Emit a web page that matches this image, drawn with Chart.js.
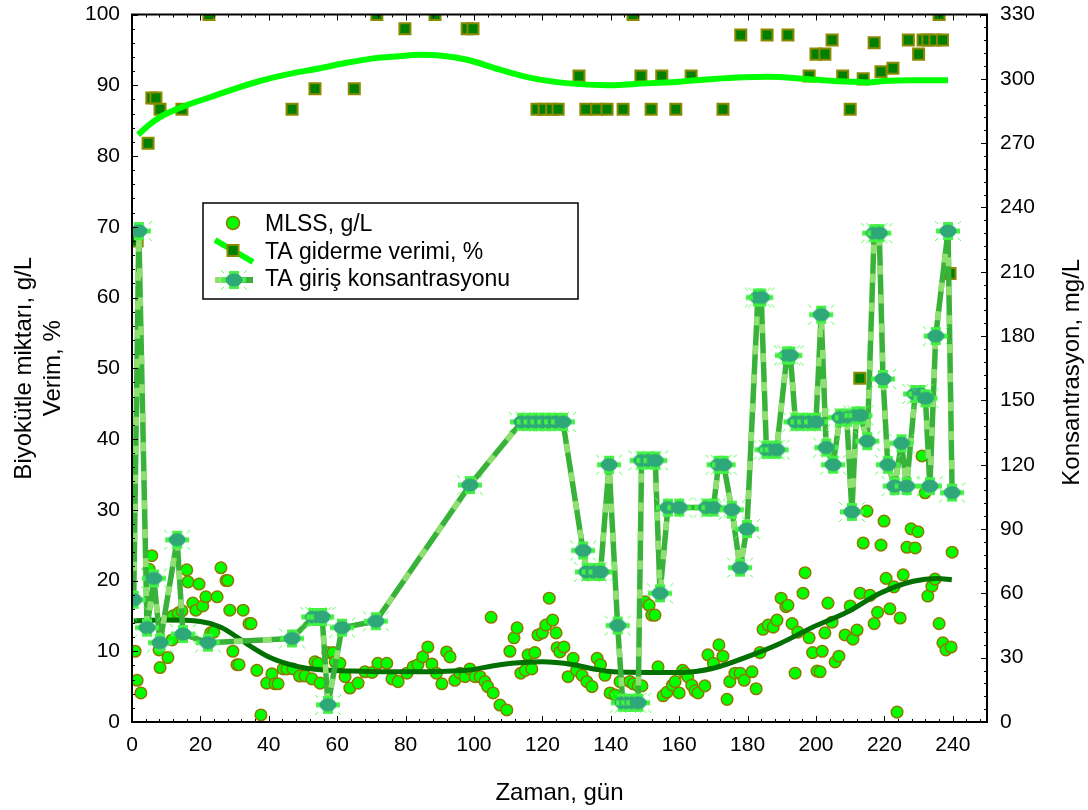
<!DOCTYPE html>
<html lang="tr">
<head>
  <meta charset="UTF-8" />
  <title>MLSS ve TA giderme verimi</title>
  <script src="https://cdn.jsdelivr.net/npm/chart.js"></script>
  <style>
    body { margin: 0; background: #fff; }
    #wrap { width: 1088px; height: 810px; }
  </style>
</head>
<body>
  <div id="wrap"><canvas id="chart" width="1088" height="810"></canvas></div>
  <script>
    // MLSS, g/L (scatter, left axis)
    const mlssDay = [0.9, 1.5, 2.6, 5.0, 5.8, 5.5, 7.9, 8.2, 10.5, 11.7, 12.0, 13.5, 14.6, 16.0, 16.4, 17.8, 18.7, 19.6, 20.7, 21.6,
      23.0, 23.9, 24.9, 26.0, 27.5, 28.0, 28.6, 29.5, 30.7, 31.3, 32.5, 34.2, 34.8, 36.5, 37.7, 39.4, 40.9, 41.8, 42.7, 44.2,
      45.3, 47.1, 49.0, 50.6, 52.6, 53.5, 54.4, 55.0, 57.3, 58.8, 59.4, 60.8, 62.3, 63.7, 66.1, 68.1, 70.2, 71.9, 74.5, 76.0,
      77.8, 80.4, 82.2, 83.6, 85.0, 86.5, 87.7, 89.0, 90.6, 92.0, 93.0, 94.4, 95.9, 97.4, 98.8, 100.3, 101.8, 103.2, 104.0, 105.0,
      105.6, 107.6, 109.6, 110.5, 111.7, 112.6, 113.7, 115.0, 115.8, 116.9, 117.8, 118.7, 120.0, 121.0, 122.0, 123.0, 124.0, 124.3, 125.1, 126.3,
      127.5, 129.0, 130.0, 131.6, 133.0, 134.5, 136.0, 137.0, 138.3, 139.8, 141.3, 142.7, 145.6, 146.6, 148.0, 149.1, 150.0, 151.2, 152.0, 152.9,
      153.8, 155.3, 156.4, 158.0, 158.8, 160.0, 161.0, 161.7, 162.5, 163.7, 164.6, 165.5, 167.5, 168.4, 170.0, 171.6, 172.8, 174.0, 174.8, 176.3,
      177.8, 179.0, 181.3, 182.5, 183.6, 184.5, 186.0, 187.5, 188.6, 189.8, 191.2, 191.8, 193.0, 193.9, 194.7, 196.2, 196.8, 198.0, 199.0, 200.3,
      201.2, 201.8, 202.6, 203.5, 204.7, 205.6, 206.7, 208.5, 210.0, 210.8, 212.0, 212.9, 213.8, 214.9, 215.8, 217.0, 218.0, 219.0, 219.9, 220.5,
      221.6, 222.8, 223.7, 224.6, 225.5, 226.6, 227.8, 229.0, 229.8, 231.0, 231.9, 232.7, 233.9, 234.8, 236.0, 237.1, 238.0, 239.5, 239.8];
    const mlssVal = [10.0, 5.9, 4.1, 21.6, 23.5, 20.5, 10.2, 7.7, 9.1, 11.6, 15.0, 15.4, 15.7, 21.5, 19.8, 16.8, 15.8, 19.5, 16.4, 17.7,
      12.6, 12.7, 17.7, 21.8, 20.0, 20.0, 15.8, 10.0, 8.1, 8.1, 15.8, 13.9, 13.9, 7.3, 1.0, 5.5, 6.8, 5.4, 5.4, 7.5,
      7.5, 7.5, 6.5, 6.5, 6.1, 8.5, 8.3, 5.5, 9.8, 9.8, 8.5, 8.3, 6.4, 4.8, 5.5, 7.1, 7.0, 8.3, 8.3, 6.1,
      5.7, 6.9, 7.8, 8.1, 9.2, 10.6, 8.2, 6.9, 5.4, 9.9, 9.2, 5.9, 6.9, 6.4, 7.5, 6.4, 6.4, 5.7, 5.0, 14.8,
      4.1, 2.4, 1.7, 10.0, 11.9, 13.3, 6.9, 7.3, 9.5, 7.5, 9.8, 12.3, 12.6, 13.7, 17.5, 14.4, 12.6, 10.5, 9.9, 10.6,
      6.4, 9.0, 7.3, 6.6, 5.7, 5.0, 9.0, 8.1, 6.6, 4.1, 3.8, 5.7, 5.7, 5.4, 5.1, 5.1, 17.0, 16.5, 15.1, 15.1,
      7.8, 3.7, 4.2, 5.2, 5.7, 4.1, 7.3, 6.9, 6.4, 5.2, 4.4, 4.1, 5.1, 9.5, 8.3, 10.9, 9.3, 3.2, 5.7, 6.9,
      6.9, 5.9, 7.1, 4.7, 9.8, 13.1, 13.7, 13.4, 14.4, 17.5, 16.3, 16.5, 13.9, 6.9, 12.7, 18.2, 21.1, 11.9, 9.8, 7.2,
      7.1, 10.0, 12.6, 16.8, 14.1, 8.5, 9.3, 12.3, 16.4, 11.7, 13.0, 18.2, 25.3, 29.8, 17.9, 13.9, 15.5, 25.0, 28.4, 20.3,
      16.0, 19.1, 1.4, 14.7, 20.8, 24.7, 27.3, 24.6, 26.9, 37.6, 32.4, 17.8, 19.2, 20.2, 13.9, 11.2, 10.2, 10.6, 24.0];

    // MLSS trend
    const mlssTrendDay = [0.5, 10, 20, 26, 30.7, 35, 40, 45, 51, 58, 64.7, 75, 84, 98, 107.6, 120, 129, 135, 140.6, 156,
      160, 170, 179.8, 189.5, 199, 209, 218.7, 228.4, 235.4, 239.7];
    const mlssTrendVal = [14.3, 14.4, 14.2, 13.4, 12.0, 10.6, 9.2, 8.3, 7.6, 7.3, 7.2, 7.1, 7.1, 7.3, 8.1, 8.5, 8.1, 7.5, 7.1, 7.0,
      7.0, 7.6, 9.2, 11.1, 13.4, 15.5, 18.2, 19.9, 20.3, 20.1];

    // TA giderme verimi, % (scatter, left axis)
    const verimDay = [1.5, 4.7, 5.8, 7.0, 8.2, 14.6, 22.5, 46.8, 53.5, 65.0, 71.6, 79.8, 88.6, 98.0, 99.7, 118.4, 120.5, 122.7, 124.6, 130.7,
      132.7, 135.9, 138.9, 143.6, 146.5, 148.8, 151.8, 154.9, 159.0, 163.5, 172.8, 178.0, 185.7, 191.8, 198.0, 200.0, 202.6, 204.7, 207.8, 210.0,
      212.8, 213.8, 217.0, 219.0, 222.5, 227.0, 230.0, 231.3, 232.7, 234.8, 236.0, 237.0, 239.2];
    const verimVal = [68, 81.8, 88.2, 88.2, 86.6, 86.6, 100, 86.6, 89.5, 89.5, 100, 98, 100, 98, 98, 86.6, 86.6, 86.6, 86.6, 91.3,
      86.6, 86.6, 86.6, 86.6, 100, 91.3, 86.6, 91.3, 86.6, 91.3, 86.6, 97.1, 97.1, 97.1, 91.3, 94.4, 94.4, 96.4, 91.3, 86.6,
      48.6, 90.9, 96.0, 91.9, 92.4, 96.4, 94.4, 96.4, 96.4, 96.4, 100, 96.4, 63.4];

    // TA giderme verimi trend
    const verimTrendDay = [1.8, 5, 8.2, 15, 22.8, 30, 37.4, 45, 55, 62, 70.5, 78, 84, 90, 98, 107.6, 117, 127, 139, 151.5,
      160, 170, 185.7, 197, 205, 211, 215, 220, 228, 238.6];
    const verimTrendVal = [83.0, 84.4, 85.5, 87.0, 88.3, 89.5, 90.6, 91.5, 92.4, 93.1, 93.8, 94.1, 94.3, 94.2, 93.6, 92.2, 91.0, 90.3, 90.0, 90.3,
      90.5, 90.9, 91.2, 90.9, 90.6, 90.5, 90.4, 90.6, 90.7, 90.7];

    // TA giris konsantrasyonu, mg/L (right axis)
    const girisDay = [0.5, 2, 4.4, 6.4, 8.2, 13.2, 14.9, 22.2, 46.8, 53, 54.5, 55.6, 57.3, 61.4, 71.3, 98.8,
      114, 116, 118, 120, 122, 124, 126, 131.9, 133, 135, 137, 139.5, 142, 143.5, 145, 146.5, 148, 149, 151, 153, 154.4,
      156.7, 160, 168, 170, 171.5, 173, 175.4, 177.8, 179.8, 183, 184, 185.5, 187, 188.5, 191.5, 192.5, 194, 196, 198, 200,
      201.5, 203, 205, 207, 209, 210.5, 211.8, 213, 215, 217, 218.5, 219.6, 221, 223, 225, 226.5, 229, 230.5, 232, 233.3,
      235, 238.6, 239.8];
    const girisVal = [57, 229, 44, 67, 37, 85, 41, 37, 39, 49, 49, 49, 8, 44, 47, 110.5,
      140, 140, 140, 140, 140, 140, 140, 80, 70, 70, 70, 120, 45, 9, 9, 9, 9, 122, 122, 122, 60,
      100, 100, 100, 100, 120, 120, 99, 72, 90, 198, 198, 127, 127, 127, 171, 171, 140, 140, 140, 140,
      190, 128, 120, 142, 142, 98, 143, 143, 131, 228, 228, 160, 120, 110, 130, 110, 153, 153, 151, 110,
      180, 229, 107];

    const pts = (xs, ys) => xs.map((d, i) => ({ x: d, y: ys[i] }));

    const FONT = "'Liberation Sans', Arial, sans-serif";
    const C = {
      mlssFill: '#00ff00', mlssEdge: '#8c7a00',
      sqFill: '#008000', sqEdge: '#8a8a00',
      verimLine: '#00ff00', mlssLine: '#007000',
      girisDark: '#38b238', girisLight: '#8fe070'
    };

    // marker used for the inlet concentration series
    function makeMarker() {
      const c = document.createElement('canvas');
      c.width = 30; c.height = 26;
      const g = c.getContext('2d');
      const cx = 15, cy = 13;
      g.strokeStyle = '#55ff55';
      g.lineWidth = 1;
      [[-1, -1], [1, -1], [-1, 1], [1, 1]].forEach(([sx, sy]) => {
        g.beginPath();
        g.moveTo(cx + sx * 10, cy + sy * 7);
        g.lineTo(cx + sx * 13, cy + sy * 10);
        g.stroke();
      });
      g.fillStyle = '#44f244';
      g.fillRect(cx - 12, cy - 2.5, 24, 5);
      g.fillRect(cx - 5, cy - 9, 10, 18);
      g.fillStyle = '#2ea878';
      g.beginPath();
      g.ellipse(cx, cy, 8.5, 6.5, 0, 0, Math.PI * 2);
      g.fill();
      return c;
    }
    const girisMarker = makeMarker();

    // frame and inward ticks on all four sides
    const frameTicks = {
      id: 'frameTicks',
      afterDatasetsDraw(chart) {
        const { ctx, chartArea: a, scales } = chart;
        ctx.save();
        ctx.strokeStyle = '#000';
        ctx.lineWidth = 1;
        ctx.beginPath();
        for (let v = 0; v <= 250; v += 4) {
          const px = Math.round(scales.x.getPixelForValue(v)) + 0.5;
          const len = v % 20 === 0 ? 6 : 3;
          ctx.moveTo(px, a.bottom); ctx.lineTo(px, a.bottom - len);
          ctx.moveTo(px, a.top); ctx.lineTo(px, a.top + len);
        }
        for (let v = 0; v <= 100; v += 2) {
          const py = Math.round(scales.y.getPixelForValue(v)) + 0.5;
          const len = v % 10 === 0 ? 6 : 3;
          ctx.moveTo(a.left, py); ctx.lineTo(a.left + len, py);
        }
        for (let v = 0; v <= 330; v += 6) {
          const py = Math.round(scales.y2.getPixelForValue(v)) + 0.5;
          const len = v % 30 === 0 ? 6 : 3;
          ctx.moveTo(a.right, py); ctx.lineTo(a.right - len, py);
        }
        ctx.stroke();
        ctx.lineWidth = 2;
        ctx.strokeRect(a.left, a.top, a.right - a.left, a.bottom - a.top);
        ctx.restore();
      }
    };

    // right axis title (reads bottom to top) and legend box inside the plot
    const boxLegend = {
      id: 'boxLegend',
      afterDraw(chart) {
        const ctx = chart.ctx;
        const a = chart.chartArea;
        ctx.save();
        ctx.fillStyle = '#000';
        ctx.font = '24px ' + FONT;
        ctx.textAlign = 'center';
        ctx.textBaseline = 'middle';
        ctx.translate(1072, (a.top + a.bottom) / 2 + 4);
        ctx.rotate(-Math.PI / 2);
        ctx.fillText('Konsantrasyon, mg/L', 0, 0);
        ctx.restore();

        ctx.save();
        ctx.fillStyle = '#fff';
        ctx.fillRect(203, 203, 375, 96);
        ctx.strokeStyle = '#000';
        ctx.lineWidth = 1.5;
        ctx.strokeRect(203, 203, 375, 96);

        // MLSS
        ctx.beginPath();
        ctx.arc(233, 223, 6.5, 0, Math.PI * 2);
        ctx.fillStyle = C.mlssFill; ctx.fill();
        ctx.strokeStyle = C.mlssEdge; ctx.lineWidth = 1.5; ctx.stroke();

        // TA giderme verimi
        ctx.beginPath();
        ctx.moveTo(215, 240); ctx.lineTo(253, 262);
        ctx.strokeStyle = C.verimLine; ctx.lineWidth = 6; ctx.stroke();
        ctx.fillStyle = C.sqFill;
        ctx.fillRect(227.5, 245, 11, 11);
        ctx.strokeStyle = C.sqEdge; ctx.lineWidth = 2;
        ctx.strokeRect(227.5, 245, 11, 11);

        // TA giris konsantrasyonu
        ctx.beginPath();
        ctx.moveTo(215, 280); ctx.lineTo(253, 280);
        ctx.strokeStyle = C.girisLight; ctx.lineWidth = 6; ctx.stroke();
        ctx.beginPath();
        ctx.moveTo(240, 280); ctx.lineTo(253, 280);
        ctx.strokeStyle = C.girisDark; ctx.stroke();
        ctx.drawImage(girisMarker, 234 - 15, 280 - 13);

        ctx.fillStyle = '#000';
        ctx.font = '23px ' + FONT;
        ctx.textBaseline = 'middle';
        ctx.fillText('MLSS, g/L', 265, 225);
        ctx.fillText('TA giderme verimi, %', 265, 253);
        ctx.fillText('TA giriş konsantrasyonu', 265, 280);
        ctx.restore();
      }
    };

    const tickFont = { family: FONT, size: 21 };
    const titleFont = { family: FONT, size: 24 };
    // keep the plot frame where the reference has it (labels may overhang)
    const fixV = w => s => { s.width = w; s.paddingTop = 0; s.paddingBottom = 0; };

    new Chart(document.getElementById('chart'), {
      type: 'scatter',
      data: {
        datasets: [
          {
            label: 'MLSS, g/L',
            data: pts(mlssDay, mlssVal),
            yAxisID: 'y',
            pointStyle: 'circle',
            pointRadius: 5.8,
            backgroundColor: C.mlssFill,
            borderColor: C.mlssEdge,
            borderWidth: 1.5,
            clip: 0,
            order: 6
          },
          {
            label: 'TA giderme verimi, %',
            data: pts(verimDay, verimVal),
            yAxisID: 'y',
            pointStyle: 'rect',
            pointRadius: 7.8,
            backgroundColor: C.sqFill,
            borderColor: C.sqEdge,
            borderWidth: 2,
            clip: 0,
            order: 5
          },
          {
            label: 'MLSS trend',
            data: pts(mlssTrendDay, mlssTrendVal),
            yAxisID: 'y',
            showLine: true,
            pointRadius: 0,
            borderColor: C.mlssLine,
            borderWidth: 5,
            cubicInterpolationMode: 'monotone',
            order: 4
          },
          {
            label: 'Verim trend',
            data: pts(verimTrendDay, verimTrendVal),
            yAxisID: 'y',
            showLine: true,
            pointRadius: 0,
            borderColor: C.verimLine,
            borderWidth: 6,
            cubicInterpolationMode: 'monotone',
            order: 3
          },
          {
            label: 'TA giriş (base)',
            data: pts(girisDay, girisVal),
            yAxisID: 'y2',
            showLine: true,
            pointRadius: 0,
            borderColor: C.girisDark,
            borderWidth: 5.5,
            borderJoinStyle: 'round',
            order: 2
          },
          {
            label: 'TA giriş konsantrasyonu',
            data: pts(girisDay, girisVal),
            yAxisID: 'y2',
            showLine: true,
            borderColor: C.girisLight,
            borderWidth: 5.5,
            borderDash: [9, 20],
            borderJoinStyle: 'round',
            pointStyle: girisMarker,
            pointRadius: 9,
            order: 1
          }
        ]
      },
      options: {
        responsive: false,
        animation: false,
        events: [],
        layout: { padding: { top: 14, left: 0, right: 0, bottom: 0 } },
        plugins: {
          legend: { display: false },
          tooltip: { enabled: false }
        },
        scales: {
          x: {
            type: 'linear',
            min: 0, max: 250,
            grid: { display: false, drawTicks: false },
            border: { display: false },
            ticks: { stepSize: 20, includeBounds: false, padding: 11, color: '#000', font: tickFont, maxRotation: 0 },
            title: { display: true, text: 'Zaman, gün', color: '#000', font: titleFont, padding: { top: 0, bottom: 2 } },
            afterFit: s => { s.height = 88; s.paddingLeft = 0; s.paddingRight = 0; }
          },
          y: {
            position: 'left',
            min: 0, max: 100,
            grid: { display: false, drawTicks: false },
            border: { display: false },
            ticks: { stepSize: 10, padding: 12, color: '#000', font: tickFont },
            title: {
              display: true,
              text: ['Biyokütle miktarı, g/L', 'Verim, %'],
              color: '#000', font: titleFont, padding: { top: 10, bottom: 0 }
            },
            afterFit: fixV(132)
          },
          y2: {
            position: 'right',
            min: 0, max: 330,
            grid: { display: false, drawTicks: false },
            border: { display: false },
            ticks: { stepSize: 30, padding: 13, color: '#000', font: tickFont },
            afterFit: fixV(101)
          }
        }
      },
      plugins: [frameTicks, boxLegend]
    });
  </script>
</body>
</html>
